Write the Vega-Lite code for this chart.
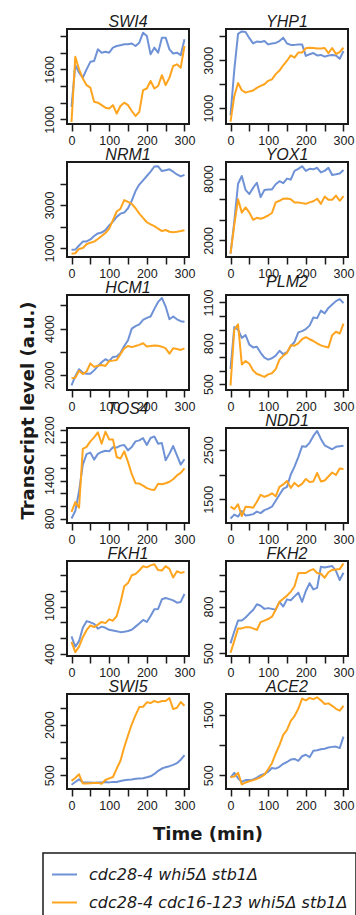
{
"$schema": "https://vega.github.io/schema/vega-lite/v6.json",
"padding": {"left": 17, "top": 13, "right": 0, "bottom": 0},
"background": "white",
"columns": 2,
"spacing": {"row": 38, "column": 37},
"bounds": "flush",
"datasets": {
"SWI4": [
{"s":"a","t":0,"v":1150},{"s":"a","t":10,"v":1650},{"s":"a","t":20,"v":1560},{"s":"a","t":30,"v":1500},{"s":"a","t":40,"v":1600},{"s":"a","t":50,"v":1690},{"s":"a","t":60,"v":1700},{"s":"a","t":70,"v":1840},{"s":"a","t":80,"v":1800},{"s":"a","t":90,"v":1810},{"s":"a","t":100,"v":1800},{"s":"a","t":110,"v":1860},{"s":"a","t":120,"v":1880},{"s":"a","t":130,"v":1890},{"s":"a","t":140,"v":1900},{"s":"a","t":150,"v":1900},{"s":"a","t":160,"v":1910},{"s":"a","t":170,"v":1880},{"s":"a","t":180,"v":1920},{"s":"a","t":190,"v":2040},{"s":"a","t":200,"v":2000},{"s":"a","t":210,"v":1780},{"s":"a","t":220,"v":1860},{"s":"a","t":230,"v":1800},{"s":"a","t":240,"v":1980},{"s":"a","t":250,"v":1980},{"s":"a","t":260,"v":1840},{"s":"a","t":270,"v":1790},{"s":"a","t":280,"v":1800},{"s":"a","t":290,"v":1770},{"s":"a","t":300,"v":1960},
{"s":"b","t":0,"v":968},{"s":"b","t":10,"v":1750},{"s":"b","t":20,"v":1600},{"s":"b","t":30,"v":1490},{"s":"b","t":40,"v":1410},{"s":"b","t":50,"v":1380},{"s":"b","t":60,"v":1210},{"s":"b","t":70,"v":1200},{"s":"b","t":80,"v":1170},{"s":"b","t":90,"v":1140},{"s":"b","t":100,"v":1130},{"s":"b","t":110,"v":1170},{"s":"b","t":120,"v":1070},{"s":"b","t":130,"v":1160},{"s":"b","t":140,"v":1200},{"s":"b","t":150,"v":1170},{"s":"b","t":160,"v":1100},{"s":"b","t":170,"v":1040},{"s":"b","t":180,"v":1090},{"s":"b","t":190,"v":1350},{"s":"b","t":200,"v":1370},{"s":"b","t":210,"v":1460},{"s":"b","t":220,"v":1370},{"s":"b","t":230,"v":1400},{"s":"b","t":240,"v":1530},{"s":"b","t":250,"v":1410},{"s":"b","t":260,"v":1500},{"s":"b","t":270,"v":1640},{"s":"b","t":280,"v":1660},{"s":"b","t":290,"v":1620},{"s":"b","t":300,"v":1880}],
"YHP1": [
{"s":"a","t":0,"v":700},{"s":"a","t":10,"v":2600},{"s":"a","t":20,"v":4100},{"s":"a","t":30,"v":4200},{"s":"a","t":40,"v":4180},{"s":"a","t":50,"v":3920},{"s":"a","t":60,"v":3700},{"s":"a","t":70,"v":3780},{"s":"a","t":80,"v":3760},{"s":"a","t":90,"v":3800},{"s":"a","t":100,"v":3660},{"s":"a","t":110,"v":3700},{"s":"a","t":120,"v":3720},{"s":"a","t":130,"v":3800},{"s":"a","t":140,"v":3940},{"s":"a","t":150,"v":3700},{"s":"a","t":160,"v":3640},{"s":"a","t":170,"v":3640},{"s":"a","t":180,"v":3660},{"s":"a","t":190,"v":3660},{"s":"a","t":200,"v":3180},{"s":"a","t":210,"v":3250},{"s":"a","t":220,"v":3300},{"s":"a","t":230,"v":3200},{"s":"a","t":240,"v":3220},{"s":"a","t":250,"v":3150},{"s":"a","t":260,"v":3200},{"s":"a","t":270,"v":3220},{"s":"a","t":280,"v":3200},{"s":"a","t":290,"v":3060},{"s":"a","t":300,"v":3380},
{"s":"b","t":0,"v":440},{"s":"b","t":10,"v":1500},{"s":"b","t":20,"v":2050},{"s":"b","t":30,"v":1750},{"s":"b","t":40,"v":1650},{"s":"b","t":50,"v":1700},{"s":"b","t":60,"v":1740},{"s":"b","t":70,"v":1850},{"s":"b","t":80,"v":1930},{"s":"b","t":90,"v":2000},{"s":"b","t":100,"v":2140},{"s":"b","t":110,"v":2200},{"s":"b","t":120,"v":2420},{"s":"b","t":130,"v":2570},{"s":"b","t":140,"v":2790},{"s":"b","t":150,"v":2980},{"s":"b","t":160,"v":3200},{"s":"b","t":170,"v":3110},{"s":"b","t":180,"v":3320},{"s":"b","t":190,"v":3320},{"s":"b","t":200,"v":3500},{"s":"b","t":210,"v":3520},{"s":"b","t":220,"v":3510},{"s":"b","t":230,"v":3490},{"s":"b","t":240,"v":3490},{"s":"b","t":250,"v":3510},{"s":"b","t":260,"v":3300},{"s":"b","t":270,"v":3510},{"s":"b","t":280,"v":3260},{"s":"b","t":290,"v":3340},{"s":"b","t":300,"v":3520}],
"NRM1": [
{"s":"a","t":0,"v":920},{"s":"a","t":10,"v":930},{"s":"a","t":20,"v":1120},{"s":"a","t":30,"v":1300},{"s":"a","t":40,"v":1310},{"s":"a","t":50,"v":1400},{"s":"a","t":60,"v":1560},{"s":"a","t":70,"v":1680},{"s":"a","t":80,"v":1720},{"s":"a","t":90,"v":1830},{"s":"a","t":100,"v":2050},{"s":"a","t":110,"v":2230},{"s":"a","t":120,"v":2450},{"s":"a","t":130,"v":2600},{"s":"a","t":140,"v":2650},{"s":"a","t":150,"v":2850},{"s":"a","t":160,"v":3200},{"s":"a","t":170,"v":3650},{"s":"a","t":180,"v":3950},{"s":"a","t":190,"v":4150},{"s":"a","t":200,"v":4350},{"s":"a","t":210,"v":4550},{"s":"a","t":220,"v":4790},{"s":"a","t":230,"v":4800},{"s":"a","t":240,"v":4580},{"s":"a","t":250,"v":4620},{"s":"a","t":260,"v":4660},{"s":"a","t":270,"v":4550},{"s":"a","t":280,"v":4420},{"s":"a","t":290,"v":4330},{"s":"a","t":300,"v":4400},
{"s":"b","t":0,"v":740},{"s":"b","t":10,"v":760},{"s":"b","t":20,"v":960},{"s":"b","t":30,"v":1000},{"s":"b","t":40,"v":1180},{"s":"b","t":50,"v":1250},{"s":"b","t":60,"v":1300},{"s":"b","t":70,"v":1420},{"s":"b","t":80,"v":1560},{"s":"b","t":90,"v":1700},{"s":"b","t":100,"v":1900},{"s":"b","t":110,"v":2300},{"s":"b","t":120,"v":2700},{"s":"b","t":130,"v":2830},{"s":"b","t":140,"v":3230},{"s":"b","t":150,"v":3150},{"s":"b","t":160,"v":3050},{"s":"b","t":170,"v":2850},{"s":"b","t":180,"v":2600},{"s":"b","t":190,"v":2400},{"s":"b","t":200,"v":2200},{"s":"b","t":210,"v":2100},{"s":"b","t":220,"v":2020},{"s":"b","t":230,"v":1900},{"s":"b","t":240,"v":1790},{"s":"b","t":250,"v":1840},{"s":"b","t":260,"v":1760},{"s":"b","t":270,"v":1740},{"s":"b","t":280,"v":1760},{"s":"b","t":290,"v":1790},{"s":"b","t":300,"v":1830}],
"YOX1": [
{"s":"a","t":0,"v":720},{"s":"a","t":10,"v":3800},{"s":"a","t":20,"v":7500},{"s":"a","t":30,"v":8250},{"s":"a","t":40,"v":6900},{"s":"a","t":50,"v":6500},{"s":"a","t":60,"v":7100},{"s":"a","t":70,"v":7600},{"s":"a","t":80,"v":6200},{"s":"a","t":90,"v":6900},{"s":"a","t":100,"v":6950},{"s":"a","t":110,"v":6950},{"s":"a","t":120,"v":7450},{"s":"a","t":130,"v":7750},{"s":"a","t":140,"v":7550},{"s":"a","t":150,"v":8000},{"s":"a","t":160,"v":7900},{"s":"a","t":170,"v":8750},{"s":"a","t":180,"v":8950},{"s":"a","t":190,"v":9200},{"s":"a","t":200,"v":8750},{"s":"a","t":210,"v":8950},{"s":"a","t":220,"v":8900},{"s":"a","t":230,"v":9050},{"s":"a","t":240,"v":8600},{"s":"a","t":250,"v":8750},{"s":"a","t":260,"v":9050},{"s":"a","t":270,"v":8350},{"s":"a","t":280,"v":8420},{"s":"a","t":290,"v":8500},{"s":"a","t":300,"v":8840},
{"s":"b","t":0,"v":720},{"s":"b","t":10,"v":3500},{"s":"b","t":20,"v":6000},{"s":"b","t":30,"v":4700},{"s":"b","t":40,"v":5200},{"s":"b","t":50,"v":4700},{"s":"b","t":60,"v":4000},{"s":"b","t":70,"v":4200},{"s":"b","t":80,"v":4100},{"s":"b","t":90,"v":4230},{"s":"b","t":100,"v":4420},{"s":"b","t":110,"v":4660},{"s":"b","t":120,"v":5690},{"s":"b","t":130,"v":5850},{"s":"b","t":140,"v":6050},{"s":"b","t":150,"v":6070},{"s":"b","t":160,"v":6000},{"s":"b","t":170,"v":5690},{"s":"b","t":180,"v":5690},{"s":"b","t":190,"v":5620},{"s":"b","t":200,"v":5550},{"s":"b","t":210,"v":5690},{"s":"b","t":220,"v":5800},{"s":"b","t":230,"v":6050},{"s":"b","t":240,"v":5550},{"s":"b","t":250,"v":6250},{"s":"b","t":260,"v":5950},{"s":"b","t":270,"v":5950},{"s":"b","t":280,"v":6350},{"s":"b","t":290,"v":5850},{"s":"b","t":300,"v":6300}],
"HCM1": [
{"s":"a","t":0,"v":1550},{"s":"a","t":10,"v":1950},{"s":"a","t":20,"v":2250},{"s":"a","t":30,"v":2100},{"s":"a","t":40,"v":2050},{"s":"a","t":50,"v":2050},{"s":"a","t":60,"v":2200},{"s":"a","t":70,"v":2380},{"s":"a","t":80,"v":2550},{"s":"a","t":90,"v":2680},{"s":"a","t":100,"v":2600},{"s":"a","t":110,"v":2780},{"s":"a","t":120,"v":2800},{"s":"a","t":130,"v":2950},{"s":"a","t":140,"v":3250},{"s":"a","t":150,"v":3500},{"s":"a","t":160,"v":4000},{"s":"a","t":170,"v":4110},{"s":"a","t":180,"v":4180},{"s":"a","t":190,"v":4380},{"s":"a","t":200,"v":4460},{"s":"a","t":210,"v":4520},{"s":"a","t":220,"v":4850},{"s":"a","t":230,"v":5150},{"s":"a","t":240,"v":5320},{"s":"a","t":250,"v":4950},{"s":"a","t":260,"v":4400},{"s":"a","t":270,"v":4520},{"s":"a","t":280,"v":4400},{"s":"a","t":290,"v":4320},{"s":"a","t":300,"v":4300},
{"s":"b","t":0,"v":1860},{"s":"b","t":10,"v":1880},{"s":"b","t":20,"v":2180},{"s":"b","t":30,"v":2040},{"s":"b","t":40,"v":2150},{"s":"b","t":50,"v":2500},{"s":"b","t":60,"v":2350},{"s":"b","t":70,"v":2400},{"s":"b","t":80,"v":2430},{"s":"b","t":90,"v":2390},{"s":"b","t":100,"v":2600},{"s":"b","t":110,"v":2620},{"s":"b","t":120,"v":2650},{"s":"b","t":130,"v":2900},{"s":"b","t":140,"v":3150},{"s":"b","t":150,"v":3250},{"s":"b","t":160,"v":3200},{"s":"b","t":170,"v":3250},{"s":"b","t":180,"v":3300},{"s":"b","t":190,"v":3370},{"s":"b","t":200,"v":3230},{"s":"b","t":210,"v":3250},{"s":"b","t":220,"v":3270},{"s":"b","t":230,"v":3260},{"s":"b","t":240,"v":3220},{"s":"b","t":250,"v":3150},{"s":"b","t":260,"v":2920},{"s":"b","t":270,"v":3150},{"s":"b","t":280,"v":3120},{"s":"b","t":290,"v":3080},{"s":"b","t":300,"v":3150}],
"PLM2": [
{"s":"a","t":0,"v":610},{"s":"a","t":10,"v":920},{"s":"a","t":20,"v":900},{"s":"a","t":30,"v":840},{"s":"a","t":40,"v":860},{"s":"a","t":50,"v":790},{"s":"a","t":60,"v":770},{"s":"a","t":70,"v":775},{"s":"a","t":80,"v":730},{"s":"a","t":90,"v":695},{"s":"a","t":100,"v":680},{"s":"a","t":110,"v":690},{"s":"a","t":120,"v":710},{"s":"a","t":130,"v":745},{"s":"a","t":140,"v":720},{"s":"a","t":150,"v":735},{"s":"a","t":160,"v":780},{"s":"a","t":170,"v":810},{"s":"a","t":180,"v":880},{"s":"a","t":190,"v":890},{"s":"a","t":200,"v":905},{"s":"a","t":210,"v":930},{"s":"a","t":220,"v":990},{"s":"a","t":230,"v":985},{"s":"a","t":240,"v":1040},{"s":"a","t":250,"v":1020},{"s":"a","t":260,"v":1060},{"s":"a","t":270,"v":1085},{"s":"a","t":280,"v":1110},{"s":"a","t":290,"v":1125},{"s":"a","t":300,"v":1095},
{"s":"b","t":0,"v":490},{"s":"b","t":10,"v":900},{"s":"b","t":20,"v":940},{"s":"b","t":30,"v":645},{"s":"b","t":40,"v":670},{"s":"b","t":50,"v":650},{"s":"b","t":60,"v":600},{"s":"b","t":70,"v":575},{"s":"b","t":80,"v":565},{"s":"b","t":90,"v":553},{"s":"b","t":100,"v":572},{"s":"b","t":110,"v":580},{"s":"b","t":120,"v":610},{"s":"b","t":130,"v":680},{"s":"b","t":140,"v":710},{"s":"b","t":150,"v":730},{"s":"b","t":160,"v":785},{"s":"b","t":170,"v":783},{"s":"b","t":180,"v":800},{"s":"b","t":190,"v":830},{"s":"b","t":200,"v":845},{"s":"b","t":210,"v":830},{"s":"b","t":220,"v":817},{"s":"b","t":230,"v":800},{"s":"b","t":240,"v":785},{"s":"b","t":250,"v":776},{"s":"b","t":260,"v":769},{"s":"b","t":270,"v":860},{"s":"b","t":280,"v":885},{"s":"b","t":290,"v":872},{"s":"b","t":300,"v":944}],
"TOS4": [
{"s":"a","t":0,"v":800},{"s":"a","t":10,"v":920},{"s":"a","t":20,"v":1230},{"s":"a","t":30,"v":1650},{"s":"a","t":40,"v":1815},{"s":"a","t":50,"v":1840},{"s":"a","t":60,"v":1730},{"s":"a","t":70,"v":1820},{"s":"a","t":80,"v":1850},{"s":"a","t":90,"v":1870},{"s":"a","t":100,"v":1860},{"s":"a","t":110,"v":1925},{"s":"a","t":120,"v":1920},{"s":"a","t":130,"v":1950},{"s":"a","t":140,"v":1960},{"s":"a","t":150,"v":1876},{"s":"a","t":160,"v":1930},{"s":"a","t":170,"v":2017},{"s":"a","t":180,"v":2033},{"s":"a","t":190,"v":2068},{"s":"a","t":200,"v":1960},{"s":"a","t":210,"v":2070},{"s":"a","t":220,"v":2095},{"s":"a","t":230,"v":1980},{"s":"a","t":240,"v":1990},{"s":"a","t":250,"v":1720},{"s":"a","t":260,"v":1824},{"s":"a","t":270,"v":1944},{"s":"a","t":280,"v":1798},{"s":"a","t":290,"v":1650},{"s":"a","t":300,"v":1736},
{"s":"b","t":0,"v":904},{"s":"b","t":10,"v":1060},{"s":"b","t":20,"v":970},{"s":"b","t":30,"v":1900},{"s":"b","t":40,"v":1930},{"s":"b","t":50,"v":2017},{"s":"b","t":60,"v":2080},{"s":"b","t":70,"v":2160},{"s":"b","t":80,"v":1980},{"s":"b","t":90,"v":2170},{"s":"b","t":100,"v":2048},{"s":"b","t":110,"v":2048},{"s":"b","t":120,"v":1770},{"s":"b","t":130,"v":1746},{"s":"b","t":140,"v":1860},{"s":"b","t":150,"v":1694},{"s":"b","t":160,"v":1500},{"s":"b","t":170,"v":1357},{"s":"b","t":180,"v":1352},{"s":"b","t":190,"v":1320},{"s":"b","t":200,"v":1280},{"s":"b","t":210,"v":1260},{"s":"b","t":220,"v":1252},{"s":"b","t":230,"v":1350},{"s":"b","t":240,"v":1340},{"s":"b","t":250,"v":1357},{"s":"b","t":260,"v":1380},{"s":"b","t":270,"v":1420},{"s":"b","t":280,"v":1480},{"s":"b","t":290,"v":1520},{"s":"b","t":300,"v":1591}],
"NDD1": [
{"s":"a","t":0,"v":1110},{"s":"a","t":10,"v":1190},{"s":"a","t":20,"v":1150},{"s":"a","t":30,"v":1260},{"s":"a","t":40,"v":1170},{"s":"a","t":50,"v":1180},{"s":"a","t":60,"v":1200},{"s":"a","t":70,"v":1250},{"s":"a","t":80,"v":1220},{"s":"a","t":90,"v":1280},{"s":"a","t":100,"v":1310},{"s":"a","t":110,"v":1350},{"s":"a","t":120,"v":1470},{"s":"a","t":130,"v":1590},{"s":"a","t":140,"v":1710},{"s":"a","t":150,"v":1750},{"s":"a","t":160,"v":2000},{"s":"a","t":170,"v":2160},{"s":"a","t":180,"v":2350},{"s":"a","t":190,"v":2570},{"s":"a","t":200,"v":2560},{"s":"a","t":210,"v":2640},{"s":"a","t":220,"v":2780},{"s":"a","t":230,"v":2880},{"s":"a","t":240,"v":2720},{"s":"a","t":250,"v":2590},{"s":"a","t":260,"v":2550},{"s":"a","t":270,"v":2510},{"s":"a","t":280,"v":2560},{"s":"a","t":290,"v":2570},{"s":"a","t":300,"v":2580},
{"s":"b","t":0,"v":1350},{"s":"b","t":10,"v":1300},{"s":"b","t":20,"v":1400},{"s":"b","t":30,"v":1160},{"s":"b","t":40,"v":1350},{"s":"b","t":50,"v":1345},{"s":"b","t":60,"v":1330},{"s":"b","t":70,"v":1450},{"s":"b","t":80,"v":1590},{"s":"b","t":90,"v":1550},{"s":"b","t":100,"v":1575},{"s":"b","t":110,"v":1620},{"s":"b","t":120,"v":1560},{"s":"b","t":130,"v":1750},{"s":"b","t":140,"v":1800},{"s":"b","t":150,"v":1870},{"s":"b","t":160,"v":1730},{"s":"b","t":170,"v":1830},{"s":"b","t":180,"v":1760},{"s":"b","t":190,"v":1810},{"s":"b","t":200,"v":1910},{"s":"b","t":210,"v":1850},{"s":"b","t":220,"v":1860},{"s":"b","t":230,"v":2030},{"s":"b","t":240,"v":1860},{"s":"b","t":250,"v":1880},{"s":"b","t":260,"v":1960},{"s":"b","t":270,"v":2040},{"s":"b","t":280,"v":1990},{"s":"b","t":290,"v":2120},{"s":"b","t":300,"v":2110}],
"FKH1": [
{"s":"a","t":0,"v":620},{"s":"a","t":10,"v":490},{"s":"a","t":20,"v":560},{"s":"a","t":30,"v":730},{"s":"a","t":40,"v":815},{"s":"a","t":50,"v":800},{"s":"a","t":60,"v":780},{"s":"a","t":70,"v":720},{"s":"a","t":80,"v":745},{"s":"a","t":90,"v":730},{"s":"a","t":100,"v":705},{"s":"a","t":110,"v":695},{"s":"a","t":120,"v":685},{"s":"a","t":130,"v":675},{"s":"a","t":140,"v":680},{"s":"a","t":150,"v":690},{"s":"a","t":160,"v":705},{"s":"a","t":170,"v":745},{"s":"a","t":180,"v":785},{"s":"a","t":190,"v":830},{"s":"a","t":200,"v":805},{"s":"a","t":210,"v":880},{"s":"a","t":220,"v":965},{"s":"a","t":230,"v":970},{"s":"a","t":240,"v":1093},{"s":"a","t":250,"v":1110},{"s":"a","t":260,"v":1095},{"s":"a","t":270,"v":1080},{"s":"a","t":280,"v":1050},{"s":"a","t":290,"v":1060},{"s":"a","t":300,"v":1160},
{"s":"b","t":0,"v":550},{"s":"b","t":10,"v":420},{"s":"b","t":20,"v":490},{"s":"b","t":30,"v":610},{"s":"b","t":40,"v":700},{"s":"b","t":50,"v":760},{"s":"b","t":60,"v":740},{"s":"b","t":70,"v":770},{"s":"b","t":80,"v":805},{"s":"b","t":90,"v":790},{"s":"b","t":100,"v":838},{"s":"b","t":110,"v":820},{"s":"b","t":120,"v":880},{"s":"b","t":130,"v":1050},{"s":"b","t":140,"v":1260},{"s":"b","t":150,"v":1300},{"s":"b","t":160,"v":1400},{"s":"b","t":170,"v":1415},{"s":"b","t":180,"v":1460},{"s":"b","t":190,"v":1515},{"s":"b","t":200,"v":1500},{"s":"b","t":210,"v":1525},{"s":"b","t":220,"v":1540},{"s":"b","t":230,"v":1465},{"s":"b","t":240,"v":1460},{"s":"b","t":250,"v":1515},{"s":"b","t":260,"v":1480},{"s":"b","t":270,"v":1370},{"s":"b","t":280,"v":1450},{"s":"b","t":290,"v":1430},{"s":"b","t":300,"v":1440}],
"FKH2": [
{"s":"a","t":0,"v":564},{"s":"a","t":10,"v":640},{"s":"a","t":20,"v":710},{"s":"a","t":30,"v":710},{"s":"a","t":40,"v":730},{"s":"a","t":50,"v":755},{"s":"a","t":60,"v":778},{"s":"a","t":70,"v":815},{"s":"a","t":80,"v":805},{"s":"a","t":90,"v":785},{"s":"a","t":100,"v":790},{"s":"a","t":110,"v":785},{"s":"a","t":120,"v":780},{"s":"a","t":130,"v":830},{"s":"a","t":140,"v":800},{"s":"a","t":150,"v":846},{"s":"a","t":160,"v":840},{"s":"a","t":170,"v":865},{"s":"a","t":180,"v":889},{"s":"a","t":190,"v":830},{"s":"a","t":200,"v":900},{"s":"a","t":210,"v":950},{"s":"a","t":220,"v":910},{"s":"a","t":230,"v":920},{"s":"a","t":240,"v":1055},{"s":"a","t":250,"v":1050},{"s":"a","t":260,"v":1055},{"s":"a","t":270,"v":1060},{"s":"a","t":280,"v":1028},{"s":"a","t":290,"v":970},{"s":"a","t":300,"v":1017},
{"s":"b","t":0,"v":504},{"s":"b","t":10,"v":580},{"s":"b","t":20,"v":660},{"s":"b","t":30,"v":660},{"s":"b","t":40,"v":668},{"s":"b","t":50,"v":668},{"s":"b","t":60,"v":660},{"s":"b","t":70,"v":650},{"s":"b","t":80,"v":700},{"s":"b","t":90,"v":710},{"s":"b","t":100,"v":720},{"s":"b","t":110,"v":735},{"s":"b","t":120,"v":780},{"s":"b","t":130,"v":830},{"s":"b","t":140,"v":850},{"s":"b","t":150,"v":870},{"s":"b","t":160,"v":895},{"s":"b","t":170,"v":930},{"s":"b","t":180,"v":1013},{"s":"b","t":190,"v":1015},{"s":"b","t":200,"v":1015},{"s":"b","t":210,"v":1030},{"s":"b","t":220,"v":1040},{"s":"b","t":230,"v":1015},{"s":"b","t":240,"v":1010},{"s":"b","t":250,"v":985},{"s":"b","t":260,"v":1020},{"s":"b","t":270,"v":1035},{"s":"b","t":280,"v":1038},{"s":"b","t":290,"v":1040},{"s":"b","t":300,"v":1077}],
"SWI5": [
{"s":"a","t":0,"v":220},{"s":"a","t":10,"v":300},{"s":"a","t":20,"v":380},{"s":"a","t":30,"v":290},{"s":"a","t":40,"v":290},{"s":"a","t":50,"v":285},{"s":"a","t":60,"v":280},{"s":"a","t":70,"v":285},{"s":"a","t":80,"v":290},{"s":"a","t":90,"v":300},{"s":"a","t":100,"v":290},{"s":"a","t":110,"v":305},{"s":"a","t":120,"v":300},{"s":"a","t":130,"v":330},{"s":"a","t":140,"v":355},{"s":"a","t":150,"v":365},{"s":"a","t":160,"v":375},{"s":"a","t":170,"v":395},{"s":"a","t":180,"v":405},{"s":"a","t":190,"v":415},{"s":"a","t":200,"v":440},{"s":"a","t":210,"v":470},{"s":"a","t":220,"v":540},{"s":"a","t":230,"v":630},{"s":"a","t":240,"v":700},{"s":"a","t":250,"v":740},{"s":"a","t":260,"v":770},{"s":"a","t":270,"v":810},{"s":"a","t":280,"v":860},{"s":"a","t":290,"v":960},{"s":"a","t":300,"v":1100},
{"s":"b","t":0,"v":335},{"s":"b","t":10,"v":420},{"s":"b","t":20,"v":530},{"s":"b","t":30,"v":260},{"s":"b","t":40,"v":255},{"s":"b","t":50,"v":265},{"s":"b","t":60,"v":270},{"s":"b","t":70,"v":275},{"s":"b","t":80,"v":250},{"s":"b","t":90,"v":360},{"s":"b","t":100,"v":410},{"s":"b","t":110,"v":450},{"s":"b","t":120,"v":700},{"s":"b","t":130,"v":930},{"s":"b","t":140,"v":1330},{"s":"b","t":150,"v":1680},{"s":"b","t":160,"v":2010},{"s":"b","t":170,"v":2280},{"s":"b","t":180,"v":2520},{"s":"b","t":190,"v":2530},{"s":"b","t":200,"v":2660},{"s":"b","t":210,"v":2640},{"s":"b","t":220,"v":2700},{"s":"b","t":230,"v":2660},{"s":"b","t":240,"v":2700},{"s":"b","t":250,"v":2700},{"s":"b","t":260,"v":2790},{"s":"b","t":270,"v":2460},{"s":"b","t":280,"v":2500},{"s":"b","t":290,"v":2670},{"s":"b","t":300,"v":2560}],
"ACE2": [
{"s":"a","t":0,"v":460},{"s":"a","t":10,"v":540},{"s":"a","t":20,"v":450},{"s":"a","t":30,"v":390},{"s":"a","t":40,"v":420},{"s":"a","t":50,"v":420},{"s":"a","t":60,"v":430},{"s":"a","t":70,"v":460},{"s":"a","t":80,"v":500},{"s":"a","t":90,"v":520},{"s":"a","t":100,"v":560},{"s":"a","t":110,"v":620},{"s":"a","t":120,"v":610},{"s":"a","t":130,"v":640},{"s":"a","t":140,"v":690},{"s":"a","t":150,"v":720},{"s":"a","t":160,"v":760},{"s":"a","t":170,"v":770},{"s":"a","t":180,"v":740},{"s":"a","t":190,"v":815},{"s":"a","t":200,"v":840},{"s":"a","t":210,"v":800},{"s":"a","t":220,"v":905},{"s":"a","t":230,"v":915},{"s":"a","t":240,"v":930},{"s":"a","t":250,"v":940},{"s":"a","t":260,"v":960},{"s":"a","t":270,"v":970},{"s":"a","t":280,"v":975},{"s":"a","t":290,"v":950},{"s":"a","t":300,"v":1140},
{"s":"b","t":0,"v":470},{"s":"b","t":10,"v":480},{"s":"b","t":20,"v":540},{"s":"b","t":30,"v":350},{"s":"b","t":40,"v":380},{"s":"b","t":50,"v":400},{"s":"b","t":60,"v":420},{"s":"b","t":70,"v":440},{"s":"b","t":80,"v":470},{"s":"b","t":90,"v":510},{"s":"b","t":100,"v":600},{"s":"b","t":110,"v":700},{"s":"b","t":120,"v":860},{"s":"b","t":130,"v":1000},{"s":"b","t":140,"v":1170},{"s":"b","t":150,"v":1250},{"s":"b","t":160,"v":1400},{"s":"b","t":170,"v":1480},{"s":"b","t":180,"v":1600},{"s":"b","t":190,"v":1770},{"s":"b","t":200,"v":1740},{"s":"b","t":210,"v":1780},{"s":"b","t":220,"v":1760},{"s":"b","t":230,"v":1790},{"s":"b","t":240,"v":1740},{"s":"b","t":250,"v":1680},{"s":"b","t":260,"v":1690},{"s":"b","t":270,"v":1650},{"s":"b","t":280,"v":1600},{"s":"b","t":290,"v":1570},{"s":"b","t":300,"v":1650}]
},
"concat": [
{"data":{"name":"SWI4"},"title":"SWI4","mark":"line","encoding":{
"x":{"field":"t","type":"quantitative","scale":{"domain":[-12,312],"nice":false,"zero":false},"axis":{"values":[0,50,100,150,200,250,300],"labelExpr":"datum.value % 100 == 0 ? datum.label : ''","title":null}},
"y":{"field":"v","type":"quantitative","scale":{"domain":[944,2084],"nice":false,"zero":false},"axis":{"values":[1000,1200,1400,1600,1800,2000],"format":"d","labelExpr":"datum.value==1000||datum.value==1600?datum.label:''","title":null}},
"color":{"field":"s","type":"nominal","scale":{"domain":["a","b"],"range":["#6f92d6","#ffa41e"]},"legend":{"title":null,"labelExpr":"datum.value=='a'?'cdc28-4 whi5Δ stb1Δ':'cdc28-4 cdc16-123 whi5Δ stb1Δ'"}}}},
{"data":{"name":"YHP1"},"title":"YHP1","mark":"line","encoding":{
"x":{"field":"t","type":"quantitative","scale":{"domain":[-12,312],"nice":false,"zero":false},"axis":{"values":[0,50,100,150,200,250,300],"labelExpr":"datum.value % 100 == 0 ? datum.label : ''","title":null}},
"y":{"field":"v","type":"quantitative","scale":{"domain":[342,4302],"nice":false,"zero":false},"axis":{"values":[1000,2000,3000,4000],"format":"d","labelExpr":"datum.value==1000||datum.value==3000?datum.label:''","title":null}},
"color":{"field":"s","type":"nominal","scale":{"domain":["a","b"],"range":["#6f92d6","#ffa41e"]},"legend":{"title":null,"labelExpr":"datum.value=='a'?'cdc28-4 whi5Δ stb1Δ':'cdc28-4 cdc16-123 whi5Δ stb1Δ'"}}}},
{"data":{"name":"NRM1"},"title":"NRM1","mark":"line","encoding":{
"x":{"field":"t","type":"quantitative","scale":{"domain":[-12,312],"nice":false,"zero":false},"axis":{"values":[0,50,100,150,200,250,300],"labelExpr":"datum.value % 100 == 0 ? datum.label : ''","title":null}},
"y":{"field":"v","type":"quantitative","scale":{"domain":[585,5000],"nice":false,"zero":false},"axis":{"values":[1000,2000,3000,4000],"format":"d","labelExpr":"datum.value==1000||datum.value==3000?datum.label:''","title":null}},
"color":{"field":"s","type":"nominal","scale":{"domain":["a","b"],"range":["#6f92d6","#ffa41e"]},"legend":{"title":null,"labelExpr":"datum.value=='a'?'cdc28-4 whi5Δ stb1Δ':'cdc28-4 cdc16-123 whi5Δ stb1Δ'"}}}},
{"data":{"name":"YOX1"},"title":"YOX1","mark":"line","encoding":{
"x":{"field":"t","type":"quantitative","scale":{"domain":[-12,312],"nice":false,"zero":false},"axis":{"values":[0,50,100,150,200,250,300],"labelExpr":"datum.value % 100 == 0 ? datum.label : ''","title":null}},
"y":{"field":"v","type":"quantitative","scale":{"domain":[395,9610],"nice":false,"zero":false},"axis":{"values":[2000,4000,6000,8000],"format":"d","labelExpr":"datum.value==2000||datum.value==8000?datum.label:''","title":null}},
"color":{"field":"s","type":"nominal","scale":{"domain":["a","b"],"range":["#6f92d6","#ffa41e"]},"legend":{"title":null,"labelExpr":"datum.value=='a'?'cdc28-4 whi5Δ stb1Δ':'cdc28-4 cdc16-123 whi5Δ stb1Δ'"}}}},
{"data":{"name":"HCM1"},"title":"HCM1","mark":"line","encoding":{
"x":{"field":"t","type":"quantitative","scale":{"domain":[-12,312],"nice":false,"zero":false},"axis":{"values":[0,50,100,150,200,250,300],"labelExpr":"datum.value % 100 == 0 ? datum.label : ''","title":null}},
"y":{"field":"v","type":"quantitative","scale":{"domain":[1354,5448],"nice":false,"zero":false},"axis":{"values":[2000,3000,4000,5000],"format":"d","labelExpr":"datum.value==2000||datum.value==4000?datum.label:''","title":"Transcript level (a.u.)","titleX":-39,"titleY":115,"titleAngle":270,"titleAlign":"center","titleBaseline":"middle","titleFont":"DejaVu Sans","titleFontWeight":"bold","titleFontSize":18,"titleColor":"#1a1a1a"}},
"color":{"field":"s","type":"nominal","scale":{"domain":["a","b"],"range":["#6f92d6","#ffa41e"]},"legend":{"title":null,"labelExpr":"datum.value=='a'?'cdc28-4 whi5Δ stb1Δ':'cdc28-4 cdc16-123 whi5Δ stb1Δ'"}}}},
{"data":{"name":"PLM2"},"title":"PLM2","mark":"line","encoding":{
"x":{"field":"t","type":"quantitative","scale":{"domain":[-12,312],"nice":false,"zero":false},"axis":{"values":[0,50,100,150,200,250,300],"labelExpr":"datum.value % 100 == 0 ? datum.label : ''","title":null}},
"y":{"field":"v","type":"quantitative","scale":{"domain":[457,1155],"nice":false,"zero":false},"axis":{"values":[500,600,700,800,900,1000,1100],"format":"d","labelExpr":"datum.value==500||datum.value==800||datum.value==1100?datum.label:''","title":null}},
"color":{"field":"s","type":"nominal","scale":{"domain":["a","b"],"range":["#6f92d6","#ffa41e"]},"legend":{"title":null,"labelExpr":"datum.value=='a'?'cdc28-4 whi5Δ stb1Δ':'cdc28-4 cdc16-123 whi5Δ stb1Δ'"}}}},
{"data":{"name":"TOS4"},"title":"TOS4","mark":"line","encoding":{
"x":{"field":"t","type":"quantitative","scale":{"domain":[-12,312],"nice":false,"zero":false},"axis":{"values":[0,50,100,150,200,250,300],"labelExpr":"datum.value % 100 == 0 ? datum.label : ''","title":null}},
"y":{"field":"v","type":"quantitative","scale":{"domain":[730,2228],"nice":false,"zero":false},"axis":{"values":[800,1000,1200,1400,1600,1800,2000,2200],"format":"d","labelExpr":"datum.value==800||datum.value==1400||datum.value==2200?datum.label:''","title":null}},
"color":{"field":"s","type":"nominal","scale":{"domain":["a","b"],"range":["#6f92d6","#ffa41e"]},"legend":{"title":null,"labelExpr":"datum.value=='a'?'cdc28-4 whi5Δ stb1Δ':'cdc28-4 cdc16-123 whi5Δ stb1Δ'"}}}},
{"data":{"name":"NDD1"},"title":"NDD1","mark":"line","encoding":{
"x":{"field":"t","type":"quantitative","scale":{"domain":[-12,312],"nice":false,"zero":false},"axis":{"values":[0,50,100,150,200,250,300],"labelExpr":"datum.value % 100 == 0 ? datum.label : ''","title":null}},
"y":{"field":"v","type":"quantitative","scale":{"domain":[1020,2940],"nice":false,"zero":false},"axis":{"values":[1500,2000,2500],"format":"d","labelExpr":"datum.value==1500||datum.value==2500?datum.label:''","title":null}},
"color":{"field":"s","type":"nominal","scale":{"domain":["a","b"],"range":["#6f92d6","#ffa41e"]},"legend":{"title":null,"labelExpr":"datum.value=='a'?'cdc28-4 whi5Δ stb1Δ':'cdc28-4 cdc16-123 whi5Δ stb1Δ'"}}}},
{"data":{"name":"FKH1"},"title":"FKH1","mark":"line","encoding":{
"x":{"field":"t","type":"quantitative","scale":{"domain":[-12,312],"nice":false,"zero":false},"axis":{"values":[0,50,100,150,200,250,300],"labelExpr":"datum.value % 100 == 0 ? datum.label : ''","title":null}},
"y":{"field":"v","type":"quantitative","scale":{"domain":[371,1581],"nice":false,"zero":false},"axis":{"values":[400,600,800,1000,1200,1400],"format":"d","labelExpr":"datum.value==400||datum.value==1000?datum.label:''","title":null}},
"color":{"field":"s","type":"nominal","scale":{"domain":["a","b"],"range":["#6f92d6","#ffa41e"]},"legend":{"title":null,"labelExpr":"datum.value=='a'?'cdc28-4 whi5Δ stb1Δ':'cdc28-4 cdc16-123 whi5Δ stb1Δ'"}}}},
{"data":{"name":"FKH2"},"title":"FKH2","mark":"line","encoding":{
"x":{"field":"t","type":"quantitative","scale":{"domain":[-12,312],"nice":false,"zero":false},"axis":{"values":[0,50,100,150,200,250,300],"labelExpr":"datum.value % 100 == 0 ? datum.label : ''","title":null}},
"y":{"field":"v","type":"quantitative","scale":{"domain":[483,1092],"nice":false,"zero":false},"axis":{"values":[500,600,700,800,900,1000],"format":"d","labelExpr":"datum.value==500||datum.value==800?datum.label:''","title":null}},
"color":{"field":"s","type":"nominal","scale":{"domain":["a","b"],"range":["#6f92d6","#ffa41e"]},"legend":{"title":null,"labelExpr":"datum.value=='a'?'cdc28-4 whi5Δ stb1Δ':'cdc28-4 cdc16-123 whi5Δ stb1Δ'"}}}},
{"data":{"name":"SWI5"},"title":"SWI5","mark":"line","encoding":{
"x":{"field":"t","type":"quantitative","scale":{"domain":[-12,312],"nice":false,"zero":false},"axis":{"values":[0,50,100,150,200,250,300],"labelExpr":"datum.value % 100 == 0 ? datum.label : ''","title":"Time (min)","titleX":140.5,"titleY":45,"titleAlign":"center","titleBaseline":"middle","titleFont":"DejaVu Sans","titleFontWeight":"bold","titleFontSize":18,"titleColor":"#1a1a1a"}},
"y":{"field":"v","type":"quantitative","scale":{"domain":[94,2907],"nice":false,"zero":false},"axis":{"values":[500,1000,1500,2000,2500],"format":"d","labelExpr":"datum.value==500||datum.value==2000?datum.label:''","title":null}},
"color":{"field":"s","type":"nominal","scale":{"domain":["a","b"],"range":["#6f92d6","#ffa41e"]},"legend":{"title":null,"labelExpr":"datum.value=='a'?'cdc28-4 whi5Δ stb1Δ':'cdc28-4 cdc16-123 whi5Δ stb1Δ'"}}}},
{"data":{"name":"ACE2"},"title":"ACE2","mark":"line","encoding":{
"x":{"field":"t","type":"quantitative","scale":{"domain":[-12,312],"nice":false,"zero":false},"axis":{"values":[0,50,100,150,200,250,300],"labelExpr":"datum.value % 100 == 0 ? datum.label : ''","title":null}},
"y":{"field":"v","type":"quantitative","scale":{"domain":[273,1845],"nice":false,"zero":false},"axis":{"values":[500,1000,1500],"format":"d","labelExpr":"datum.value==500||datum.value==1500?datum.label:''","title":null}},
"color":{"field":"s","type":"nominal","scale":{"domain":["a","b"],"range":["#6f92d6","#ffa41e"]},"legend":{"title":null,"labelExpr":"datum.value=='a'?'cdc28-4 whi5Δ stb1Δ':'cdc28-4 cdc16-123 whi5Δ stb1Δ'"}}}}
],
"config": {
"view": {"stroke": "#1a1a1a", "strokeWidth": 2, "continuousWidth": 122, "continuousHeight": 95},
"axis": {"grid": false, "domain": false, "tickColor": "#1a1a1a", "tickWidth": 1.5, "tickSize": 7, "labelColor": "#1a1a1a", "labelFont": "Liberation Sans", "labelFontSize": 12.5, "labelOverlap": false, "labelFlush": false, "labelBound": false, "labelPadding": 3},
"axisY": {"labelAngle": -90, "labelAlign": "center", "labelBaseline": "bottom", "labelPadding": 4},
"title": {"font": "Liberation Sans", "fontSize": 16, "fontStyle": "italic", "fontWeight": "normal", "color": "#1a1a1a", "offset": -1, "baseline": "alphabetic", "anchor": "middle", "frame": "group"},
"line": {"strokeWidth": 2, "strokeJoin": "round"},
"legend": {"orient": "none", "legendX": -24, "legendY": 824, "strokeColor": "#1a1a1a", "strokeWidth": 1.5, "fillColor": "white", "padding": 8, "symbolType": "stroke", "symbolSize": 625, "symbolStrokeWidth": 2, "labelFont": "DejaVu Sans", "labelFontStyle": "italic", "labelFontSize": 16, "labelColor": "#1a1a1a", "labelOffset": 11, "rowPadding": 6, "labelLimit": 500}
}
}
